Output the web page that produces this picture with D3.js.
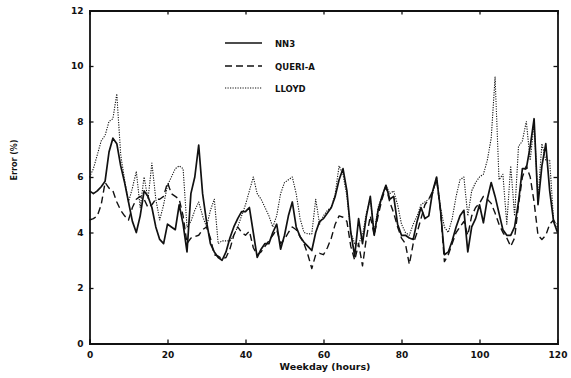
<!DOCTYPE html>
<html><head><meta charset="utf-8">
<script src="https://cdn.jsdelivr.net/npm/d3@7"></script>
<style>
html,body{margin:0;padding:0;background:#fff;}
text{font-family:"DejaVu Sans",sans-serif;font-weight:bold;fill:#111;}
</style></head>
<body><svg id="c" width="571" height="378"></svg>
<script>
const hours = d3.range(0, 121);
const nn3 = [5.5,5.4,5.5,5.65,5.85,6.9,7.4,7.2,6.4,5.8,5.1,4.4,4.0,4.6,5.5,5.3,4.9,4.2,3.75,3.6,
 4.3,4.2,4.1,5.0,4.3,3.3,5.4,6.0,7.15,5.4,4.4,3.6,3.3,3.1,3.0,3.3,3.8,4.2,4.5,4.75,
 4.75,4.9,4.0,3.1,3.4,3.6,3.6,4.0,4.3,3.4,3.9,4.6,5.1,4.2,3.85,3.65,3.5,3.35,4.0,4.4,
 4.5,4.7,4.9,5.3,5.9,6.3,5.5,4.0,3.15,4.5,3.6,4.6,5.3,3.9,4.8,5.3,5.7,5.2,5.3,4.3,
 3.9,3.9,3.8,3.75,4.4,4.9,4.5,4.6,5.5,6.0,4.8,3.2,3.3,3.7,4.2,4.6,4.8,3.3,4.2,4.5,
 5.0,4.35,5.2,5.8,5.3,4.7,4.1,3.9,3.9,4.2,5.1,6.3,6.3,7.1,8.1,5.0,6.4,7.2,5.5,4.4,4.0];
const queriA = [4.45,4.5,4.6,5.0,5.8,5.6,5.5,5.1,4.8,4.6,4.45,4.9,5.2,5.3,5.2,4.9,5.0,5.2,5.2,5.3,
 5.8,5.4,5.3,5.2,4.6,3.6,3.8,3.85,3.9,4.1,4.2,3.8,3.2,3.15,3.05,3.1,3.4,3.9,4.2,4.0,
 3.9,4.05,3.45,3.2,3.3,3.5,3.7,3.9,4.1,3.6,3.75,4.0,4.2,4.1,3.85,3.6,3.2,2.7,3.2,3.25,
 3.2,3.45,3.8,4.3,4.6,4.55,4.4,3.5,3.0,3.6,2.8,3.8,4.6,3.9,4.6,5.2,5.65,5.1,4.7,4.2,
 3.8,3.6,2.85,3.6,4.0,4.5,5.0,5.2,5.5,5.9,4.8,2.95,3.2,3.6,4.0,4.2,4.4,3.9,4.6,4.9,
 5.05,5.3,5.2,5.05,4.7,4.3,4.0,3.8,3.5,3.8,5.0,6.0,6.4,6.0,5.1,3.9,3.75,3.9,4.3,4.45,4.2];
const lloyd = [6.0,6.3,6.8,7.3,7.5,8.0,8.1,9.0,6.8,5.9,5.1,5.6,6.2,4.9,6.0,5.2,6.5,5.2,4.45,5.0,
 5.7,6.0,6.3,6.4,6.3,4.2,4.4,4.8,5.1,4.6,4.2,4.8,5.2,3.6,3.7,3.7,3.7,3.9,4.2,4.6,
 5.0,5.5,6.0,5.4,5.2,4.9,4.6,4.2,4.6,5.4,5.8,5.9,6.0,5.4,4.5,4.0,3.95,3.95,5.2,4.3,
 4.6,4.8,4.9,5.4,6.4,6.1,5.3,4.0,3.6,3.6,3.9,4.7,5.2,4.0,4.9,5.3,5.7,5.4,5.5,5.0,
 4.3,4.0,3.9,4.3,4.6,5.0,5.1,5.2,5.4,6.0,4.9,4.2,4.0,4.5,5.3,5.9,6.0,4.6,5.5,5.8,
 6.0,6.1,6.6,7.4,9.6,5.9,6.1,4.3,6.4,4.6,7.1,7.3,8.0,6.6,7.95,5.2,7.2,6.6,6.6,4.4,4.3];
const xTicks = [0,20,40,60,80,100,120];
const yTicks = [0,2,4,6,8,10,12];
const seriesNames = ["NN3","QUERI-A","LLOYD"];

const svg = d3.select("#c");
const x = d3.scaleLinear().domain([0,120]).range([89.5,557.5]);
const y = d3.scaleLinear().domain([0,12]).range([343.5,10.5]);

const styles = [
  {w:1.7, dash:null},
  {w:1.4, dash:"7,4"},
  {w:1.1, dash:"1.2,1.3"}
];
const data = [nn3, queriA, lloyd];
const line = d3.line().x((d,i)=>x(hours[i])).y(d=>y(d));

const g = svg.append("g");
data.forEach((s,k)=>{
  g.append("path").datum(s).attr("d", line)
   .attr("fill","none").attr("stroke","#111")
   .attr("stroke-width", styles[k].w)
   .attr("stroke-dasharray", styles[k].dash)
   .attr("stroke-linejoin","round");
});

// axes
const axL = d3.axisLeft(y).tickValues(yTicks).tickSize(-4).tickPadding(6);
const axR = d3.axisRight(y).tickValues(yTicks).tickSize(-4).tickFormat("");
const axB = d3.axisBottom(x).tickValues(xTicks).tickSize(-4).tickPadding(8);
const axT = d3.axisTop(x).tickValues(xTicks).tickSize(-4).tickFormat("");
function style(sel){
  sel.selectAll("path").attr("stroke","#111").attr("stroke-width",1.8);
  sel.selectAll("line").attr("stroke","#111").attr("stroke-width",1.3);
  sel.selectAll("text").attr("font-size",9).attr("font-family","DejaVu Sans, sans-serif").attr("font-weight","bold").attr("fill","#111");
}
svg.append("g").attr("transform",`translate(${x(0)},0)`).call(axL).call(style);
svg.append("g").attr("transform",`translate(${x(120)},0)`).call(axR).call(style);
svg.append("g").attr("transform",`translate(0,${y(0)})`).call(axB).call(style);
svg.append("g").attr("transform",`translate(0,${y(12)})`).call(axT).call(style);
svg.selectAll(".domain").attr("d", function(){ return d3.select(this).attr("d").replace(/V-?4|V4/g,"V0"); });

// titles
svg.append("text").attr("x",325).attr("y",370).attr("text-anchor","middle")
  .attr("font-size",9.5).text("Weekday (hours)");
svg.append("text").attr("transform","translate(17,160) rotate(-90)").attr("text-anchor","middle")
  .attr("font-size",8).text("Error (%)");

// legend
const legY = [43,66,88];
seriesNames.forEach((n,k)=>{
  svg.append("line").attr("x1",225).attr("x2",262).attr("y1",legY[k]).attr("y2",legY[k])
    .attr("stroke","#111").attr("stroke-width",styles[k].w).attr("stroke-dasharray",styles[k].dash);
  svg.append("text").attr("x",275).attr("y",legY[k]+3.5).attr("font-size",8.5).text(n);
});
</script></body></html>
